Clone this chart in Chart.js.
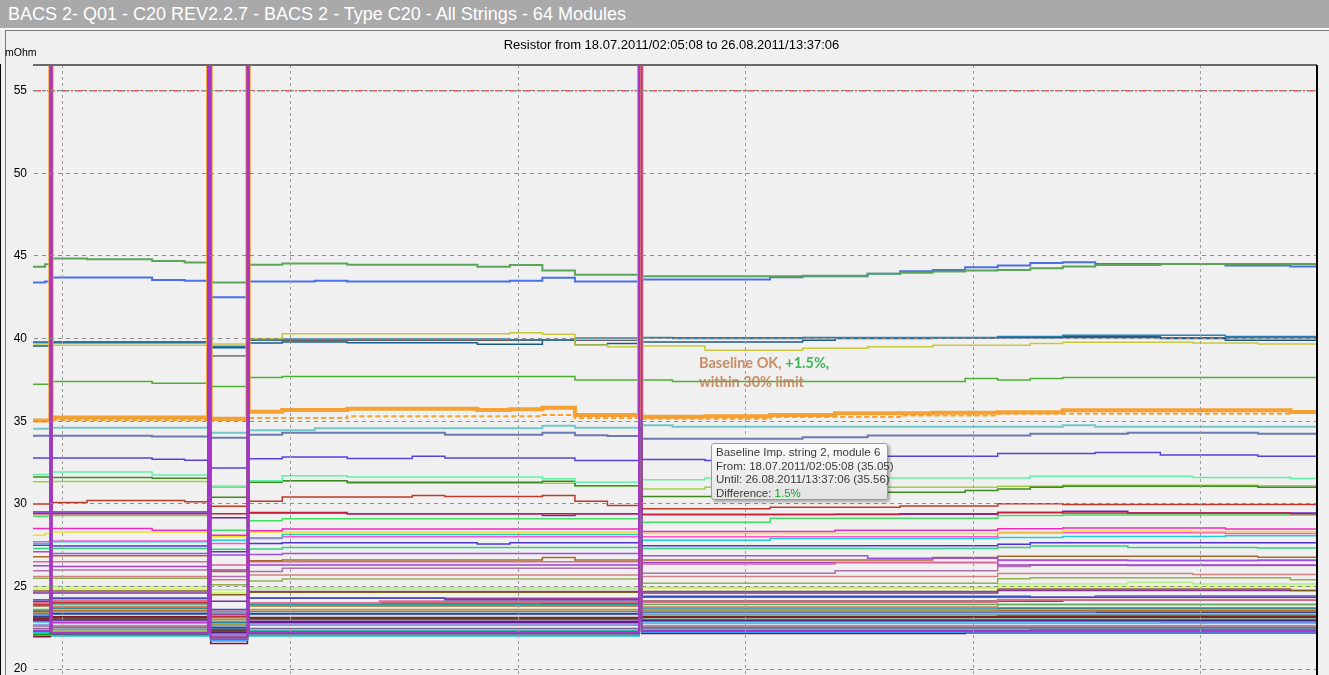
<!DOCTYPE html>
<html><head><meta charset="utf-8">
<script src="https://cdn.jsdelivr.net/npm/chart.js@4.4.1/dist/chart.umd.min.js"></script>
<style>
html,body{margin:0;padding:0;background:#f0f0f0;overflow:hidden;width:1329px;height:675px;font-family:"Liberation Sans",Arial,sans-serif;}
#bar{position:absolute;left:0;top:0;width:1329px;height:28px;background:#a9a9a9;color:#fff;font-size:18px;line-height:28px;padding-left:8px;box-sizing:border-box;white-space:nowrap;}
#sep{position:absolute;left:0;top:28px;width:1329px;height:2px;background:#fafafa;}
#panel{position:absolute;left:5px;top:30px;width:1324px;height:645px;border-top:1px solid #7c7c7c;border-left:1px solid #7c7c7c;box-sizing:border-box;}
#wrap{position:absolute;left:0;top:0;width:1329px;height:675px;}
#sub{position:absolute;left:7px;top:37px;width:1329px;text-align:center;font-size:13px;color:#000;}
#unit{position:absolute;left:5px;top:46px;font-size:10.5px;color:#000;}
#note{position:absolute;left:699px;top:353px;font-family:Lato,"Liberation Sans",sans-serif;font-weight:bold;font-size:14.5px;line-height:19px;color:#c5845c;opacity:0.92;white-space:nowrap;}
#note .g{color:#2fb347;}
#tip{position:absolute;left:711px;top:443px;width:177px;height:57px;box-sizing:border-box;border:1px solid #9c9c9c;border-radius:3px;background:linear-gradient(#fbfbfb,#e3e3e3);box-shadow:2px 2px 3px rgba(0,0,0,0.3);padding:2px 0 0 4px;font-size:11.5px;line-height:13.5px;color:#3a3a3a;white-space:nowrap;}
#tip .g{color:#18a030;}
</style></head>
<body>
<div id="wrap"><canvas id="c" width="1329" height="675"></canvas></div>
<div id="bar">BACS 2- Q01 - C20 REV2.2.7 - BACS 2 - Type C20 - All Strings - 64 Modules</div>
<div id="sep"></div>
<div id="panel"></div>
<div id="sub">Resistor from 18.07.2011/02:05:08 to 26.08.2011/13:37:06</div>
<div id="unit">mOhm</div>
<div id="note">Baseline OK, <span class="g">+1.5%,</span><br>within 30% limit</div>
<div id="tip">Baseline Imp. string 2, module 6<br>From: 18.07.2011/02:05:08 (35.05)<br>Until: 26.08.2011/13:37:06 (35.56)<br>Difference: <span class="g">1.5%</span></div>
<script>
// time axis: days since 18.07.2011 00:00
const startDay = 0.0869;   // 18.07.2011 02:05:08
const endDay = 39.5675;    // 26.08.2011 13:37:06
const weekTicks = [1, 8, 15, 22, 29, 36]; // 19.07, 26.07, 02.08, 09.08, 16.08, 23.08
const yTicks = [20, 25, 30, 35, 40, 45, 50, 55];
const yMin = 19.64, yMax = 56.56;
const limitValue = 55;
const spikeIntervals = [[0.62, 0.66], [5.47, 5.49], [5.53, 5.55], [6.68, 6.72], [18.72, 18.80]];
const spikeValue = 80;

// change points [day, mOhm]
const baseline = [[0.087,35.05],[0.66,35.22],[5.55,35.15],[6.72,35.58],[7.75,35.68],[9.75,35.76],[13.75,35.68],[14.75,35.73],[15.75,35.82],[16.75,35.38],[18.80,35.27],[20.75,35.3],[22.75,35.38],[24.75,35.48],[27.75,35.52],[29.75,35.55],[31.75,35.66],[38.75,35.56]];
const baselineRef = [[0.087,35.05],[0.66,35.08],[5.55,35.08],[6.72,35.2],[9.75,35.3],[15.75,35.38],[16.75,35.2],[18.80,35.15],[22.75,35.25],[26.75,35.35],[29.75,35.45],[38.75,35.5]];
const green44 = [[0.087,44.35],[0.46,44.5],[0.66,44.85],[1.75,44.8],[3.75,44.7],[4.75,44.6],[5.55,43.4],[6.72,44.47],[7.75,44.55],[9.75,44.47],[13.75,44.35],[14.75,44.45],[15.75,44.12],[16.75,43.86],[18.80,43.78],[23.75,43.8],[25.75,43.92],[26.75,43.98],[27.75,44.06],[28.75,44.12],[29.75,44.16],[30.75,44.26],[31.75,44.36],[32.75,44.46],[34.75,44.52]];
const blue43 = [[0.087,43.4],[0.46,43.45],[0.66,43.7],[3.75,43.55],[4.75,43.5],[5.55,42.5],[6.72,43.45],[8.75,43.5],[9.75,43.45],[14.75,43.5],[15.75,43.68],[16.75,43.45],[18.80,43.57],[22.75,43.72],[23.75,43.78],[25.75,43.93],[26.75,44.08],[27.75,44.16],[28.75,44.32],[29.75,44.43],[30.75,44.57],[31.75,44.62],[32.75,44.52],[36.75,44.43],[38.75,44.36]];
const yellow40 = [[0.087,39.67],[0.66,39.6],[5.55,39.68],[6.72,40.0],[7.75,40.3],[14.75,40.35],[15.75,40.27],[16.75,39.62],[17.75,39.5],[18.80,39.56],[20.75,39.3],[23.75,39.42],[25.75,39.5],[27.75,39.6],[30.75,39.7],[31.75,39.78],[35.75,39.73],[37.75,39.67]];
const steel40 = [[0.087,39.75],[0.66,39.8],[5.55,39.54],[6.72,39.93],[7.75,39.97],[14.75,39.93],[16.75,40.03],[18.80,40.07],[19.75,40.0],[23.75,40.07],[29.75,40.13],[31.75,40.21],[36.75,40.13]];
const navy40 = [[0.087,39.55],[0.66,39.75],[5.55,39.45],[6.72,39.73],[7.75,39.8],[9.75,39.75],[13.75,39.66],[15.75,39.93],[16.75,39.63],[17.75,39.7],[18.80,39.8],[23.75,39.9],[24.75,40.0],[27.75,40.03],[29.75,40.07],[31.75,40.13],[34.75,40.0],[36.75,39.9]];
const black40 = [[0.087,39.8],[0.66,39.82],[5.55,38.95],[6.72,39.9],[18.80,40.05]];
const green37 = [[0.087,37.24],[0.66,37.4],[3.75,37.3],[5.55,37.1],[6.72,37.64],[7.75,37.7],[16.75,37.5],[18.80,37.5],[19.75,37.4],[28.75,37.58],[29.75,37.5],[30.75,37.58],[31.75,37.64]];
const teal34 = [[0.087,34.55],[0.66,34.6],[5.55,34.3],[6.72,34.45],[8.75,34.57],[15.75,34.73],[16.75,34.6],[18.80,34.75],[19.75,34.66],[31.75,34.75],[32.75,34.66]];
const slate34 = [[0.087,34.12],[3.75,34.08],[5.55,34.0],[6.72,34.18],[7.75,34.3],[12.75,34.18],[15.75,34.3],[16.75,34.15],[17.75,34.1],[18.80,33.94],[23.75,34.03],[25.75,34.13],[27.75,34.14],[30.75,34.24],[33.75,34.3],[37.75,34.24]];
const violet33 = [[0.087,32.78],[3.75,32.7],[4.75,32.64],[5.55,32.17],[6.72,32.73],[7.75,32.83],[9.75,32.75],[11.75,32.88],[12.75,32.78],[16.75,32.63],[18.80,32.68],[20.75,32.62],[22.75,32.88],[29.75,33.04],[32.75,33.1],[34.75,32.96],[37.75,32.88]];
const aqua32 = [[0.087,31.77],[0.66,31.93],[3.75,31.74],[5.55,31.08],[6.72,31.4],[7.75,31.7],[9.75,31.62],[15.75,31.52],[16.75,31.3],[18.80,31.46],[20.75,31.56],[30.75,31.67],[35.75,31.6],[38.75,31.53]];
const dkgreen31 = [[0.087,31.63],[0.66,31.6],[3.75,31.55],[5.55,30.4],[6.72,31.3],[7.75,31.4],[9.75,31.3],[15.75,31.36],[16.75,31.1],[18.80,30.45],[25.75,30.7],[28.75,30.8],[29.75,30.9],[30.75,31.0],[31.75,31.07],[37.75,31.0]];
const ygreen31 = [[0.087,31.33],[0.66,31.35],[5.55,31.0],[6.72,31.3],[7.75,31.4],[9.75,31.25],[16.75,31.1],[18.80,30.9],[20.75,31.0],[29.75,31.07],[31.75,31.13],[37.75,31.1]];
const dkred30 = [[0.087,29.99],[0.66,30.08],[1.75,30.2],[4.75,30.12],[5.55,29.85],[6.72,30.15],[7.75,30.42],[11.75,30.5],[12.75,30.45],[15.75,30.5],[16.75,30.15],[17.75,29.9],[18.80,29.7],[22.75,29.8],[26.75,29.87],[29.75,30.0],[31.75,29.96]];
const crimson29 = [[0.087,29.4],[5.55,29.4],[6.72,29.48],[9.75,29.4],[18.80,29.35],[26.75,29.4],[29.75,29.48],[31.75,29.44],[38.75,29.4]];
const purple29 = [[0.087,29.5],[5.55,29.15],[6.72,29.45],[9.75,29.4],[15.75,29.3],[16.75,29.4],[18.80,29.35],[24.75,29.37],[29.75,29.48],[31.75,29.55],[33.75,29.45]];
const lgreen29 = [[0.087,29.25],[0.66,29.3],[5.55,28.4],[6.72,28.98],[7.75,29.1],[18.80,28.88],[22.75,29.12],[29.75,29.3],[31.75,29.33]];
const magenta28 = [[0.087,28.5],[3.75,28.4],[5.55,28.1],[6.72,28.37],[7.75,28.47],[18.80,28.33],[24.75,28.4],[29.75,28.49],[31.75,28.53],[36.75,28.47]];
const yellow28 = [[0.087,28.1],[0.46,28.2],[0.66,28.3],[5.55,28.0],[6.72,28.3],[18.80,28.2],[29.75,28.3],[31.75,28.35],[35.75,28.33]];
const cyan28 = [[0.087,27.6],[0.66,27.7],[5.55,27.8],[6.72,27.95],[7.75,28.15],[18.80,27.8],[22.75,27.9],[29.75,27.96],[31.75,28.03],[36.75,28.07]];
const hotpink28 = [[0.087,27.7],[0.66,27.75],[5.55,27.6],[6.72,27.9],[7.75,28.0],[18.80,28.0],[29.75,28.25],[36.75,28.2]];
const blue27 = [[0.087,27.5],[0.66,27.45],[5.55,27.1],[6.72,27.6],[7.75,27.65],[13.75,27.57],[14.75,27.65],[18.80,27.47],[29.75,27.56],[30.75,27.65]];
const sea27 = [[0.087,27.3],[5.55,27.25],[6.72,27.27],[7.75,27.35],[18.80,27.3],[29.75,27.36],[30.75,27.45],[33.75,27.36],[37.75,27.32]];
const lav27 = [[0.087,27.1],[0.66,27.0],[5.55,26.9],[6.72,26.93],[7.75,27.0],[18.80,26.85],[25.75,26.7],[29.75,26.6],[33.75,26.57]];
const brown27 = [[0.087,26.8],[0.66,26.85],[5.55,25.9],[6.72,26.55],[7.75,26.6],[15.75,26.75],[16.75,26.6],[18.80,26.6],[27.75,26.75],[29.75,26.82],[37.75,26.76]];
const pink26 = [[0.087,26.5],[5.55,26.3],[6.72,26.5],[18.80,26.36],[24.75,26.45],[29.75,26.57],[37.75,26.6]];
const medpurple26 = [[0.087,26.25],[0.66,26.2],[5.55,26.0],[6.72,26.3],[18.80,26.45],[29.75,26.3]];
const mauve26 = [[0.087,25.95],[0.66,26.0],[5.55,25.6],[6.72,25.9],[7.75,26.1],[18.80,25.8],[24.75,25.95],[29.75,26.2],[30.75,26.3],[33.75,26.27]];
const rose26 = [[0.087,25.6],[5.55,25.4],[6.72,25.7],[18.80,25.6],[29.75,25.78],[35.75,25.72]];
const olive25 = [[0.087,25.5],[5.55,25.1],[6.72,25.33],[7.75,25.45],[18.80,25.2],[29.75,25.47],[30.75,25.53],[38.75,25.4]];
const pale25 = [[0.087,25.0],[5.55,24.8],[6.72,24.9],[18.80,24.95],[29.75,25.15],[33.75,25.25],[35.75,25.15]];
const lime25 = [[0.087,24.85],[5.55,24.6],[6.72,24.85],[18.80,24.9],[29.75,24.99]];
const dkolive25 = [[0.087,24.72],[5.55,24.5],[6.72,24.65],[18.80,24.7],[29.75,24.84],[38.75,24.75]];
const purple25 = [[0.087,24.6],[5.55,24.1],[6.72,24.7],[18.80,24.6],[29.75,24.75]];
const c01 = [[0.087,24.1],[0.66,24.3],[5.55,23.6],[6.72,24.3],[12.75,24.2],[18.80,24.4],[30.75,24.35]];
const c02 = [[0.087,24.2],[0.66,24.25],[5.55,23.3],[6.72,24.28],[18.80,24.35],[32.75,24.42]];
const c03 = [[0.087,24.0],[0.66,24.12],[5.55,23.5],[6.72,24.0],[10.75,24.1],[18.80,24.05],[29.75,24.2]];
const c04 = [[0.087,23.9],[0.66,24.05],[5.55,23.2],[6.72,24.0],[18.80,24.1],[31.75,24.2]];
const c05 = [[0.087,23.85],[0.66,23.95],[5.55,23.4],[6.72,23.9],[18.80,24.1],[30.75,24.17]];
const c06 = [[0.087,23.6],[0.66,23.95],[5.55,23.0],[6.72,23.85],[15.75,23.95],[18.80,23.9]];
const c07 = [[0.087,23.8],[0.66,23.8],[5.55,22.9],[6.72,23.8],[18.80,23.75],[29.75,23.9]];
const c08 = [[0.087,23.5],[0.66,23.7],[5.55,22.8],[6.72,23.87],[18.80,23.7]];
const c09 = [[0.087,23.55],[0.66,23.65],[5.55,22.7],[6.72,23.6],[18.80,23.58],[29.75,23.65]];
const c10 = [[0.087,23.4],[0.66,23.55],[5.55,23.1],[6.72,23.5],[18.80,23.56]];
const c11 = [[0.087,23.35],[0.66,23.45],[5.55,22.6],[6.72,23.47],[18.80,23.45],[32.75,23.5]];
const c12 = [[0.087,23.2],[0.66,23.35],[5.55,22.5],[6.72,23.35],[18.80,23.43]];
const c13 = [[0.087,23.3],[0.66,23.3],[5.55,22.45],[6.72,23.3],[18.80,23.3]];
const c14 = [[0.087,23.05],[0.66,23.15],[5.55,22.4],[6.72,23.1],[18.80,23.15]];
const c15 = [[0.087,23.1],[0.66,23.1],[5.55,22.3],[6.72,23.07],[18.80,23.1]];
const c16 = [[0.087,23.0],[0.66,23.05],[5.55,22.35],[6.72,23.0],[18.80,23.2],[29.75,23.25]];
const c17 = [[0.087,22.95],[0.66,22.98],[5.55,22.25],[6.72,22.86],[18.80,22.95]];
const c18 = [[0.087,22.85],[0.66,22.9],[5.55,22.2],[6.72,22.9],[18.80,22.85]];
const c19 = [[0.087,22.9],[0.66,22.85],[5.55,22.15],[6.72,22.8],[18.80,22.9],[34.75,22.85]];
const c20 = [[0.087,22.7],[0.66,22.75],[5.55,22.1],[6.72,22.7],[18.80,22.76]];
const c21 = [[0.087,22.6],[0.66,22.6],[5.55,22.0],[6.72,22.66],[18.80,22.6]];
const c22 = [[0.087,22.45],[0.66,22.5],[5.55,21.95],[6.72,22.45],[18.80,22.5]];
const c23 = [[0.087,22.35],[0.66,22.4],[5.55,21.9],[6.72,22.35],[18.80,22.45]];
const c24 = [[0.087,22.3],[0.66,22.3],[5.55,21.85],[6.72,22.3],[18.80,22.38]];
const c25 = [[0.087,22.1],[0.66,22.15],[5.55,21.8],[6.72,22.15],[18.80,22.3]];
const c26 = [[0.087,22.05],[0.66,22.05],[5.55,21.75],[6.72,22.05],[18.80,22.25]];
const c27 = [[0.087,22.3],[0.66,22.2],[5.55,21.9],[6.72,22.25],[18.80,22.3],[30.75,22.35]];
const c28 = [[0.087,21.95],[0.66,22.1],[5.55,21.55],[6.72,22.05],[18.80,22.15],[28.75,22.2]];
const c29 = [[0.087,22.2],[0.66,22.0],[5.55,21.7],[6.72,22.0],[18.80,22.2]];

// drawing list: first entry is drawn on top
const seriesList = [
  [c27,'#a636c8',2,null],[dkred30,'#c03828',1.5,null],[baseline,'#f5a030',4,null],[baselineRef,'#f5a030',2,[5,3]],
  [green44,'#5aa55a',2,null],[blue43,'#4a70e8',2,null],[yellow40,'#c8c83c',1.5,null],[steel40,'#2a80b4',1.5,null],[navy40,'#1a5a88',1.5,null],[black40,'#303030',1,null],
  [green37,'#4cb030',1.5,null],[teal34,'#70c8c8',2,null],[slate34,'#6a7ab0',2,null],[violet33,'#5a40e0',1.5,null],[aqua32,'#60f0a8',1.5,null],[dkgreen31,'#3c8a20',1.5,null],[ygreen31,'#a0d040',1.5,null],
  [crimson29,'#c81e3c',1.5,null],[purple29,'#7020c0',1.5,null],[lgreen29,'#40e060',1.5,null],[magenta28,'#f028c0',1.5,null],[yellow28,'#f0e020',1.5,null],[cyan28,'#20d0d0',1.5,null],[hotpink28,'#ff50d0',1.5,null],
  [blue27,'#5030e0',1.5,null],[sea27,'#30d080',1.5,null],[lav27,'#9a50e0',1.5,null],[brown27,'#a86828',1.5,null],[pink26,'#e060a0',1.5,null],[medpurple26,'#a040c8',1.5,null],[mauve26,'#b070b0',1.5,null],[rose26,'#d08080',1.5,null],
  [olive25,'#90b050',1.5,null],[pale25,'#b0f080',1.5,null],[lime25,'#d0f060',1.5,null],[dkolive25,'#806020',1.5,null],[purple25,'#8030a0',1.5,null],
  [c01,'#3050d0',1.5,null],[c02,'#a040a0',1.5,null],[c03,'#e07090',2,null],[c04,'#c03030',1.5,null],[c05,'#20a0a0',1.5,null],[c06,'#60b060',1.5,null],[c07,'#d08060',1.5,null],[c08,'#2080a0',1.5,null],
  [c09,'#a0a040',1.5,null],[c10,'#c07020',1.5,null],[c11,'#6080e0',1.5,null],[c12,'#304090',1.5,null],[c13,'#70a0a0',1.5,null],[c14,'#802020',2,null],[c15,'#208040',1.5,null],[c16,'#e02060',1.5,null],
  [c17,'#502080',2,null],[c18,'#40c0f0',1.5,null],[c19,'#c000c0',1.5,null],[c20,'#90a0e0',1.5,null],[c21,'#a06080',1.5,null],[c22,'#8060a0',1.5,null],[c23,'#30c0a0',1.5,null],[c24,'#b0b020',1.5,null],
  [c25,'#00a000',1.5,null],[c26,'#40a0ff',1.5,null],[c28,'#8a1040',1.5,null],[c29,'#20c0e0',1.5,null]
];

function valueAt(pts, t){ let v = pts[0][1]; for (const p of pts) if (p[0] <= t + 1e-9) v = p[1]; return v; }
function build(pts){
  const out = pts.map(p => ({x: p[0], y: p[1]}));
  spikeIntervals.forEach(([ts, te]) => {
    out.push({x: ts, y: spikeValue});
    if (!pts.some(p => Math.abs(p[0] - te) < 1e-9)) out.push({x: te, y: valueAt(pts, te)});
  });
  out.push({x: endDay, y: pts[pts.length - 1][1]});
  out.sort((a, b) => a.x - b.x);
  return out;
}

const datasets = seriesList.map(([pts, color, w, dash]) => ({
  data: build(pts), borderColor: color, borderWidth: w, borderDash: dash || [],
  stepped: true, pointRadius: 0, fill: false, clip: 0
}));
datasets.push({
  data: [{x: startDay, y: limitValue}, {x: endDay, y: limitValue}],
  borderColor: 'rgba(255,50,50,0.85)', borderWidth: 1.5, borderDash: [8,2,2,2],
  pointRadius: 0, fill: false, clip: 0
});

const framePlugin = {
  id: 'frame',
  afterDraw(chart){
    const {ctx, chartArea: a} = chart;
    ctx.save();
    ctx.lineWidth = 2;
    ctx.strokeStyle = '#6a6a6a';
    ctx.beginPath(); ctx.moveTo(a.left, a.top); ctx.lineTo(a.right, a.top); ctx.stroke();
    ctx.strokeStyle = '#000';
    ctx.beginPath(); ctx.moveTo(a.right, a.top); ctx.lineTo(a.right, a.bottom); ctx.stroke();
    ctx.restore();
  }
};

new Chart(document.getElementById('c'), {
  type: 'line',
  data: { datasets },
  options: {
    responsive: false, devicePixelRatio: 1, animation: false, events: [],
    layout: { padding: { top: 65, right: 12, bottom: 0, left: 0 } },
    plugins: { legend: { display: false }, tooltip: { enabled: false }, title: { display: false } },
    scales: {
      x: {
        type: 'linear', min: startDay, max: endDay,
        afterBuildTicks: s => { s.ticks = weekTicks.map(v => ({value: v})); },
        afterFit: s => { s.height = 0; s.paddingTop = 0; s.paddingBottom = 0; s.paddingLeft = 0; s.paddingRight = 0; },
        ticks: { display: false, padding: 0 },
        grid: { color: '#9c9c9c', lineWidth: 1, drawTicks: false, z: 1 },
        border: { display: false, dash: [3,3] }
      },
      y: {
        type: 'linear', min: yMin, max: yMax,
        afterFit: s => { s.width = 33; s.paddingTop = 0; s.paddingBottom = 0; },
        afterBuildTicks: s => { s.ticks = yTicks.map(v => ({value: v})); },
        ticks: { color: '#000', padding: 6, font: { family: 'Liberation Sans', size: 12 } },
        grid: { color: '#8a8a8a', lineWidth: 1, drawTicks: false, z: 1 },
        border: { display: true, color: '#000', width: 2, dash: [4,4] }
      }
    }
  },
  plugins: [framePlugin]
});
</script>
</body></html>
